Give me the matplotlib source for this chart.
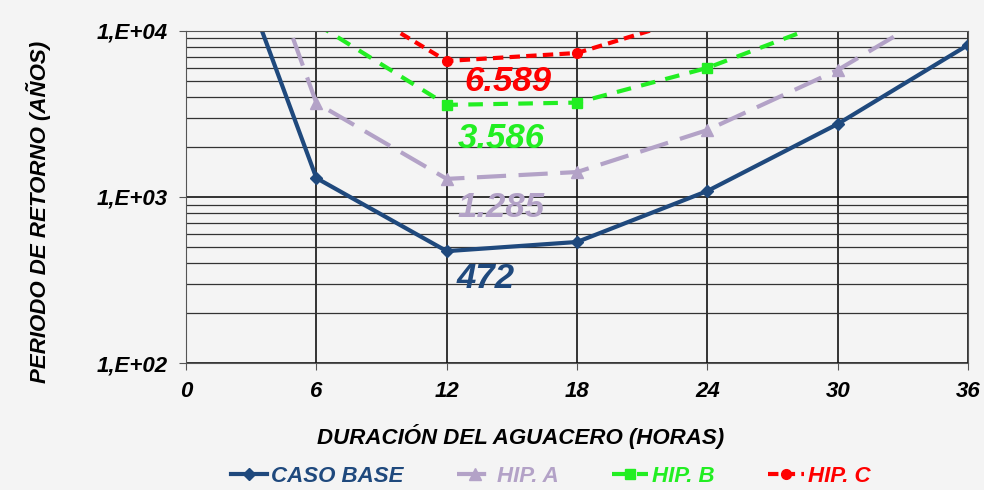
import matplotlib
matplotlib.use('Agg')
import matplotlib.pyplot as plt
from matplotlib.ticker import FixedLocator, LogLocator, NullFormatter

horas = [3, 6, 12, 18, 24, 30, 36]
caso_base = [15000, 1300, 472, 536, 1087, 2754, 8240]
horas_a = [3, 6, 12, 18, 24, 30, 36]
hip_a = [45000, 3680, 1285, 1413, 2530, 5820, 17000]
horas_b = [6, 12, 18, 24, 30]
hip_b = [11000, 3586, 3700, 5990, 11900]
horas_c = [6, 12, 18, 24]
hip_c = [19500, 6589, 7360, 12800]

etiquetas = ['6.589', '3.586', '1.285', '472']
etiq_x = [14.8, 14.5, 14.5, 13.8]
etiq_y = [4950, 2250, 860, 325]

c_base = '#1F497D'
c_a = '#B3A2C7'
c_b = '#22EE22'
c_c = '#FF0000'
bg = '#F4F4F4'

plt.rcParams['font.family'] = ['Liberation Sans', 'DejaVu Sans']
plt.rcParams['font.weight'] = 'bold'
plt.rcParams['font.style'] = 'italic'

fig = plt.figure(figsize=(9.84, 4.9), dpi=100, facecolor=bg)
ax = fig.add_axes([0.189, 0.259, 0.795, 0.678], facecolor=bg)

l1, = ax.plot(horas, caso_base, color=c_base, lw=3, marker='D', ms=6, label='CASO BASE')
l2, = ax.plot(horas_a, hip_a, color=c_a, lw=3, ls=(0, (7, 3)), marker='^', ms=8, label='HIP. A')
l3, = ax.plot(horas_b, hip_b, color=c_b, lw=3, ls=(0, (3.5, 2.5)), marker='s', ms=7, label='HIP. B')
l4, = ax.plot(horas_c, hip_c, color=c_c, lw=3, ls=(0, (2.5, 1.5)), marker='o', ms=7, label='HIP. C')

for t, xx, yy, col in zip(etiquetas, etiq_x, etiq_y, [c_c, c_b, c_a, c_base]):
    ax.text(xx, yy, t, color=col, fontsize=25, fontweight='bold', style='italic',
            ha='center', va='center')

ax.set_yscale('log')
ax.set_ylim(100, 10000)
ax.set_xlim(0, 36)
ax.xaxis.set_major_locator(FixedLocator([0, 6, 12, 18, 24, 30, 36]))
ax.yaxis.set_major_locator(FixedLocator([100, 1000, 10000]))
ax.yaxis.set_minor_locator(LogLocator(base=10, subs=range(2, 10)))
ax.yaxis.set_minor_formatter(NullFormatter())
ax.set_yticklabels(['1,E+02', '1,E+03', '1,E+04'])
ax.grid(True, which='major', color='#111111', lw=1.2)
ax.grid(True, which='minor', axis='y', color='#333333', lw=0.9)
ax.tick_params(axis='both', which='major', labelsize=16, length=5, color='#555555', pad=8)
ax.tick_params(axis='y', which='minor', length=0)
for lab in ax.get_xticklabels() + ax.get_yticklabels():
    lab.set_fontweight('bold')
    lab.set_fontstyle('italic')
for s in ax.spines.values():
    s.set_color('#555555')

ax.set_xlabel('DURACIÓN DEL AGUACERO (HORAS)', fontsize=16, fontweight='bold',
              style='italic', labelpad=16, x=0.428)
ax.set_ylabel('PERIODO DE RETORNO (AÑOS)', fontsize=16, fontweight='bold',
              style='italic', labelpad=33, y=0.455)

leg = fig.legend(handles=[l1, l2, l3, l4], loc='lower center', bbox_to_anchor=(0.56, -0.035),
                 ncol=4, frameon=False, fontsize=16, handlelength=1.6, columnspacing=2.4,
                 handletextpad=0.2)
for txt, col in zip(leg.get_texts(), [c_base, c_a, c_b, c_c]):
    txt.set_color(col)
    txt.set_fontweight('bold')
    txt.set_fontstyle('italic')

plt.savefig('out.png', dpi=100, facecolor=bg)
